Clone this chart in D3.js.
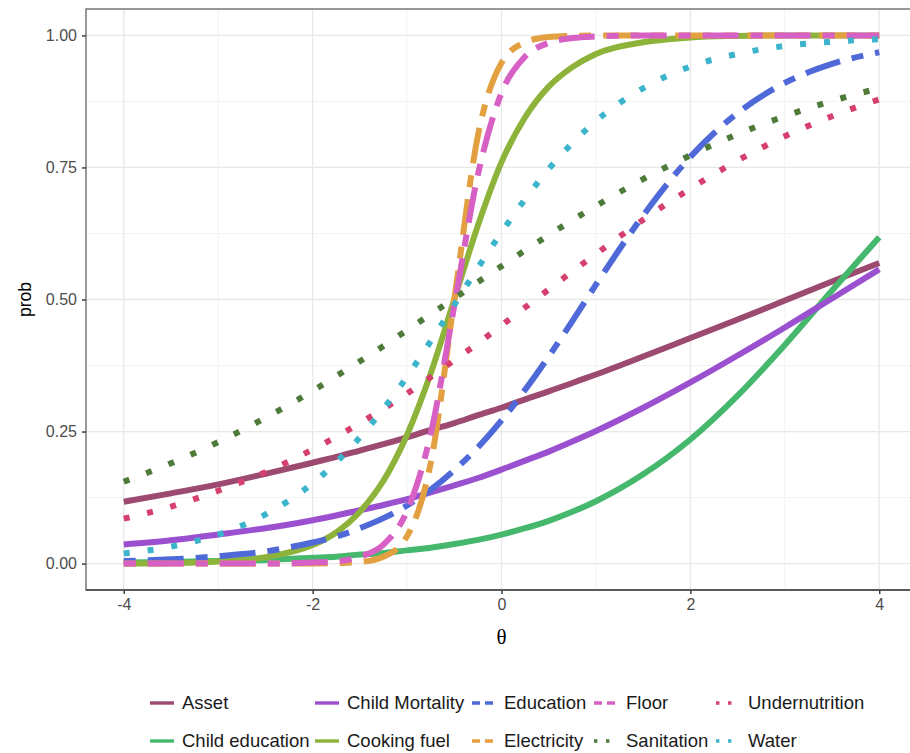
<!DOCTYPE html>
<html>
<head>
<meta charset="utf-8">
<script src="https://cdn.jsdelivr.net/npm/d3@7"></script>
<style>
  html, body { margin: 0; padding: 0; background: #fff; }
  svg { display: block; font-family: "Liberation Sans", Arial, sans-serif; }
</style>
</head>
<body>
<div id="chart"></div>
<script>
// theta grid the curves were read at
const theta = [-4, -3.5, -3, -2.5, -2, -1.75, -1.5, -1.25, -1, -0.75, -0.5, -0.25, 0, 0.25, 0.5, 0.75, 1, 1.5, 2, 2.5, 3, 3.5, 4];

const asset          = [0.117, 0.133, 0.150, 0.170, 0.191, 0.202, 0.214, 0.226, 0.239, 0.253, 0.266, 0.281, 0.295, 0.311, 0.326, 0.342, 0.358, 0.392, 0.427, 0.462, 0.498, 0.534, 0.569];
const childEducation = [0.002, 0.003, 0.005, 0.007, 0.011, 0.013, 0.017, 0.020, 0.025, 0.030, 0.037, 0.045, 0.055, 0.067, 0.081, 0.098, 0.118, 0.169, 0.235, 0.318, 0.414, 0.517, 0.618];
const childMortality = [0.036, 0.044, 0.055, 0.067, 0.082, 0.091, 0.101, 0.111, 0.122, 0.135, 0.148, 0.162, 0.178, 0.195, 0.212, 0.231, 0.251, 0.295, 0.343, 0.394, 0.447, 0.502, 0.557];
const cookingFuel    = [0.000, 0.001, 0.004, 0.012, 0.035, 0.059, 0.098, 0.157, 0.244, 0.360, 0.500, 0.640, 0.760, 0.845, 0.903, 0.940, 0.965, 0.987, 0.996, 0.999, 1.000, 1.000, 1.000];
const education      = [0.005, 0.008, 0.014, 0.023, 0.040, 0.051, 0.067, 0.086, 0.110, 0.140, 0.177, 0.220, 0.271, 0.329, 0.392, 0.459, 0.528, 0.659, 0.770, 0.853, 0.910, 0.946, 0.968];
const electricity    = [0.000, 0.000, 0.000, 0.000, 0.000, 0.001, 0.003, 0.013, 0.052, 0.190, 0.500, 0.810, 0.948, 0.987, 0.997, 0.999, 1.000, 1.000, 1.000, 1.000, 1.000, 1.000, 1.000];
const floor          = [0.000, 0.000, 0.000, 0.000, 0.002, 0.004, 0.013, 0.036, 0.100, 0.245, 0.488, 0.736, 0.891, 0.960, 0.986, 0.995, 0.998, 1.000, 1.000, 1.000, 1.000, 1.000, 1.000];
const sanitation     = [0.155, 0.190, 0.230, 0.276, 0.327, 0.355, 0.383, 0.412, 0.442, 0.472, 0.502, 0.533, 0.563, 0.593, 0.622, 0.650, 0.677, 0.728, 0.773, 0.813, 0.847, 0.876, 0.900];
const undernutrition = [0.085, 0.108, 0.138, 0.173, 0.216, 0.240, 0.266, 0.293, 0.322, 0.353, 0.385, 0.417, 0.451, 0.485, 0.519, 0.553, 0.586, 0.651, 0.710, 0.763, 0.809, 0.847, 0.879];
const water          = [0.019, 0.032, 0.055, 0.093, 0.152, 0.192, 0.239, 0.293, 0.354, 0.421, 0.490, 0.560, 0.627, 0.690, 0.747, 0.796, 0.838, 0.900, 0.941, 0.965, 0.980, 0.988, 0.993];

const xTicks = [-4, -2, 0, 2, 4];
const yTicks = [0, 0.25, 0.5, 0.75, 1];

const DOTTED = '6,18', TWODASH = '12,12,36,12';

// drawing order is alphabetical, like the legend
const series = [
  { name: 'Asset',           values: asset,          color: '#9c4a6f', dash: null },
  { name: 'Child education', values: childEducation, color: '#45b86e', dash: null },
  { name: 'Child Mortality', values: childMortality, color: '#9b50d0', dash: null },
  { name: 'Cooking fuel',    values: cookingFuel,    color: '#8db33a', dash: null },
  { name: 'Education',       values: education,      color: '#4f6ad8', dash: TWODASH },
  { name: 'Electricity',     values: electricity,    color: '#e3a040', dash: TWODASH },
  { name: 'Floor',           values: floor,          color: '#d760c4', dash: TWODASH },
  { name: 'Sanitation',      values: sanitation,     color: '#4e7b3a', dash: DOTTED },
  { name: 'Undernutrition',  values: undernutrition, color: '#d6406e', dash: DOTTED },
  { name: 'Water',           values: water,          color: '#3cb4cc', dash: DOTTED }
];

const width = 910, height = 753;
const panel = { left: 86, right: 917, top: 9, bottom: 590 };

const svg = d3.select('#chart').append('svg')
  .attr('width', width).attr('height', height);

const x = d3.scaleLinear().domain([-4.4, 4.4]).range([panel.left, panel.right]);
const y = d3.scaleLinear().domain([-0.05, 1.05]).range([panel.bottom, panel.top]);

// grid
const grid = svg.append('g');
[-3, -1, 1, 3].forEach(v => grid.append('line')
  .attr('x1', x(v)).attr('x2', x(v)).attr('y1', panel.top).attr('y2', panel.bottom)
  .attr('stroke', '#f3f3f3').attr('stroke-width', 1));
[0.125, 0.375, 0.625, 0.875].forEach(v => grid.append('line')
  .attr('x1', panel.left).attr('x2', panel.right).attr('y1', y(v)).attr('y2', y(v))
  .attr('stroke', '#f3f3f3').attr('stroke-width', 1));
xTicks.forEach(v => grid.append('line')
  .attr('x1', x(v)).attr('x2', x(v)).attr('y1', panel.top).attr('y2', panel.bottom)
  .attr('stroke', '#e8e8e8').attr('stroke-width', 1.3));
yTicks.forEach(v => grid.append('line')
  .attr('x1', panel.left).attr('x2', panel.right).attr('y1', y(v)).attr('y2', y(v))
  .attr('stroke', '#e8e8e8').attr('stroke-width', 1.3));

// curves
const line = d3.line()
  .x((d, i) => x(theta[i]))
  .y(d => y(d))
  .curve(d3.curveMonotoneX);

svg.append('g').selectAll('path')
  .data(series)
  .enter().append('path')
  .attr('d', d => line(d.values))
  .attr('fill', 'none')
  .attr('stroke', d => d.color)
  .attr('stroke-width', 6)
  .attr('stroke-dasharray', d => d.dash)
  .attr('stroke-linecap', 'butt');

// panel border
svg.append('rect')
  .attr('x', panel.left).attr('y', panel.top)
  .attr('width', panel.right - panel.left).attr('height', panel.bottom - panel.top)
  .attr('fill', 'none').attr('stroke', '#6e6e6e').attr('stroke-width', 1.4);

// axes (plain hyphen minus, like R)
const xAxis = svg.append('g')
  .attr('transform', `translate(0,${panel.bottom})`)
  .call(d3.axisBottom(x).tickValues(xTicks).tickSize(4).tickPadding(5).tickFormat(d => String(d)));
const yAxis = svg.append('g')
  .attr('transform', `translate(${panel.left},0)`)
  .call(d3.axisLeft(y).tickValues(yTicks).tickSize(4).tickPadding(5).tickFormat(d => d.toFixed(2)));

[xAxis, yAxis].forEach(a => {
  a.select('.domain').remove();
  a.selectAll('.tick line').attr('stroke', '#333').attr('stroke-width', 1.4);
  a.selectAll('.tick text').attr('fill', '#4d4d4d').attr('font-size', 16)
    .attr('font-family', '"Liberation Sans", Arial, sans-serif');
});
svg.append('line')
  .attr('x1', panel.left).attr('x2', panel.right)
  .attr('y1', panel.bottom).attr('y2', panel.bottom)
  .attr('stroke', '#444').attr('stroke-width', 1.4);

// axis titles
svg.append('text')
  .attr('x', x(0)).attr('y', 644)
  .attr('text-anchor', 'middle')
  .attr('font-size', 21)
  .attr('font-family', '"Liberation Serif", "DejaVu Serif", serif')
  .text('θ');
svg.append('text')
  .attr('transform', `translate(31,${(panel.top + panel.bottom) / 2}) rotate(-90)`)
  .attr('text-anchor', 'middle')
  .attr('font-size', 17.5)
  .text('prob');

// legend, two rows filled column by column
const legendCols = [150, 315, 472, 594, 716];
const legendRows = [703, 741];
const legend = svg.append('g');
series.forEach((s, i) => {
  const lx = legendCols[Math.floor(i / 2)];
  const ly = legendRows[i % 2];
  legend.append('line')
    .attr('x1', lx).attr('x2', lx + 24).attr('y1', ly).attr('y2', ly)
    .attr('stroke', s.color).attr('stroke-width', 3.4)
    .attr('stroke-dasharray', s.dash === DOTTED ? '3.4,8.6' : s.dash === TWODASH ? '8,5' : null);
  legend.append('text')
    .attr('x', lx + 32).attr('y', ly).attr('dy', '0.35em')
    .attr('font-size', 18.5).attr('fill', '#1a1a1a')
    .text(s.name);
});
</script>
</body>
</html>
